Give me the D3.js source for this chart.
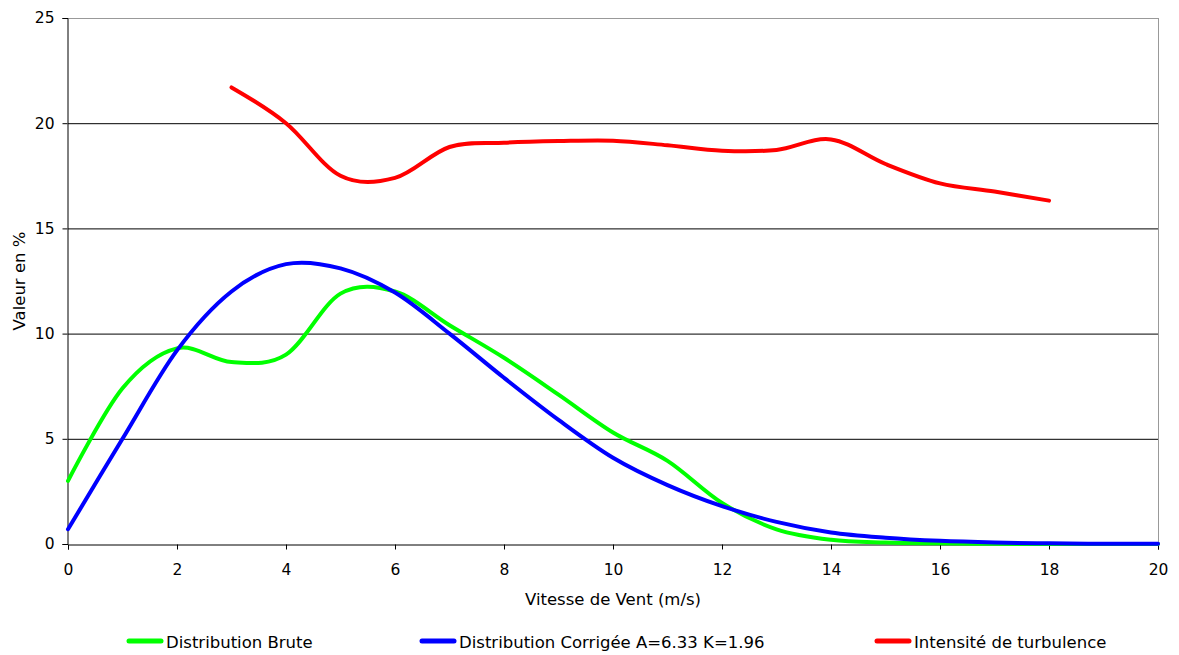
<!DOCTYPE html>
<html>
<head>
<meta charset="utf-8">
<script src="https://cdn.jsdelivr.net/npm/d3@7"></script>
<style>
  body { margin: 0; background: #fff; }
  svg { display: block; font-family: Verdana, "DejaVu Sans", sans-serif; }
</style>
</head>
<body>
<div id="chart"></div>
<script>
// chart data
const vitesse = d3.range(0, 21) // 0..20 m/s
const brute = [3.0, 7.4, 9.3, 8.65, 9.0, 11.9, 12.0, 10.4, 8.85, 7.1, 5.3, 3.95, 1.95, 0.7, 0.2, 0.07, 0.03, 0.01, 0.0, 0.0, 0.0]
const corrigee = [0.7, 5.0, 9.2, 12.0, 13.3, 13.1, 11.95, 10.0, 7.9, 5.9, 4.1, 2.8, 1.8, 1.05, 0.55, 0.3, 0.15, 0.07, 0.03, 0.01, 0.01]
const vitesseTurb = d3.range(3, 19)
const turbulence = [21.7, 20.0, 17.5, 17.4, 18.87, 19.07, 19.15, 19.17, 18.95, 18.69, 18.73, 19.23, 18.06, 17.14, 16.75, 16.32]
const yTicks = [0, 5, 10, 15, 20, 25]
const xTicks = d3.range(0, 21, 2)

const series = [
	{ name: 'Distribution Brute', color: '#00ff00', x: vitesse, y: brute },
	{ name: 'Distribution Corrigée A=6.33 K=1.96', color: '#0000ff', x: vitesse, y: corrigee },
	{ name: 'Intensité de turbulence', color: '#ff0000', x: vitesseTurb, y: turbulence },
]

const width = 1179
const height = 655
const margin = { top: 18, right: 21, bottom: 111, left: 68 }
const fontSize = 16.5
const tickFont = 15.5

const svg = d3.select('#chart')
	.append('svg')
	.attr('width', width)
	.attr('height', height)

const x = d3.scaleLinear()
	.domain([0, 20])
	.range([margin.left, width - margin.right])

const y = d3.scaleLinear()
	.domain([0, 25])
	.range([height - margin.bottom, margin.top])

// grid lines
svg.append('g')
	.selectAll('line')
	.data(yTicks.filter(d => d > 0))
	.enter()
	.append('line')
	.attr('x1', x(0))
	.attr('x2', x(20))
	.attr('y1', d => y(d) + 0.5)
	.attr('y2', d => y(d) + 0.5)
	.attr('stroke', d => d === 25 ? '#999' : '#000')
	.attr('stroke-width', 1)

// right border
svg.append('line')
	.attr('x1', x(20) + 0.5)
	.attr('x2', x(20) + 0.5)
	.attr('y1', y(25))
	.attr('y2', y(0))
	.attr('stroke', '#999')

// axes
const xAxis = svg.append('g')
	.attr('transform', `translate(0,${y(0) + 0.5})`)
	.call(d3.axisBottom(x).tickValues(xTicks).tickSize(5).tickPadding(14).tickFormat(d3.format('d')))
	.attr('font-size', tickFont)
	.attr('font-family', null)
xAxis.select('.domain').attr('stroke', '#000')

const yAxis = svg.append('g')
	.attr('transform', `translate(${x(0) - 0.5},0)`)
	.call(d3.axisLeft(y).tickValues(yTicks).tickSize(5).tickPadding(8).tickFormat(d3.format('d')))
	.attr('font-size', tickFont)
	.attr('font-family', null)
yAxis.select('.domain').attr('stroke', '#000')

// axis titles
svg.append('text')
	.attr('x', (x(0) + x(20)) / 2)
	.attr('y', 605)
	.attr('text-anchor', 'middle')
	.attr('font-size', fontSize)
	.text('Vitesse de Vent (m/s)')

svg.append('text')
	.attr('transform', `translate(25,${(y(0) + y(25)) / 2}) rotate(-90)`)
	.attr('text-anchor', 'middle')
	.attr('font-size', fontSize)
	.text('Valeur en %')

// curves
const line = d3.line()
	.x(d => x(d[0]))
	.y(d => y(d[1]))
	.curve(d3.curveCardinal.tension(0))

series.forEach(s => {
	svg.append('path')
		.datum(s.x.map((v, i) => [v, s.y[i]]))
		.attr('fill', 'none')
		.attr('stroke', s.color)
		.attr('stroke-width', 4)
		.attr('stroke-linecap', 'round')
		.attr('stroke-linejoin', 'round')
		.attr('d', line)
})

// legend
const legendX = [127, 420, 875]
const legend = svg.append('g')
	.selectAll('g')
	.data(series)
	.enter()
	.append('g')
	.attr('transform', (d, i) => `translate(${legendX[i]},641)`)

legend.append('line')
	.attr('x1', 2)
	.attr('x2', 34)
	.attr('y1', 0)
	.attr('y2', 0)
	.attr('stroke', d => d.color)
	.attr('stroke-width', 5)
	.attr('stroke-linecap', 'round')

legend.append('text')
	.attr('x', 39)
	.attr('y', 7)
	.attr('font-size', fontSize)
	.text(d => d.name)
</script>
</body>
</html>
